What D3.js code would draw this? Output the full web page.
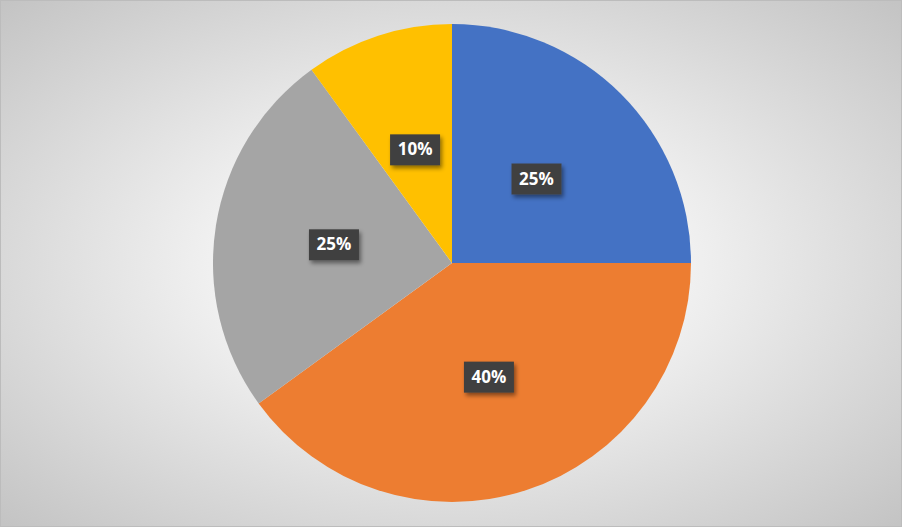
<!DOCTYPE html>
<html>
<head>
<meta charset="utf-8">
<script src="https://cdn.jsdelivr.net/npm/d3@7"></script>
<style>
  html, body { margin: 0; padding: 0; background: #fff; }
  svg { display: block; }
</style>
</head>
<body>
<svg id="chart" width="902" height="527"></svg>
<script>
// chart data
const categories = ['A', 'B', 'C', 'D'];
const values = [25, 40, 25, 10];
const colors = ['#4472C4', '#ED7D31', '#A5A5A5', '#FFC000'];

const width = 902, height = 527;
const cx = 452, cy = 263, radius = 239;

const svg = d3.select('#chart');
const defs = svg.append('defs');

// background gradient
const grad = defs.append('radialGradient')
    .attr('id', 'bg')
    .attr('cx', '50%').attr('cy', '50%').attr('r', '70%');
grad.append('stop').attr('offset', '0%').attr('stop-color', '#ffffff');
grad.append('stop').attr('offset', '30%').attr('stop-color', '#f6f6f6');
grad.append('stop').attr('offset', '100%').attr('stop-color', '#c4c4c4');

// label shadow
const filt = defs.append('filter').attr('id', 'shadow')
    .attr('x', '-30%').attr('y', '-30%').attr('width', '160%').attr('height', '180%');
filt.append('feDropShadow')
    .attr('dx', 2).attr('dy', 3).attr('stdDeviation', 2)
    .attr('flood-color', '#000').attr('flood-opacity', 0.45);

svg.append('rect')
    .attr('x', 0.5).attr('y', 0.5)
    .attr('width', width - 1).attr('height', height - 1)
    .attr('fill', 'url(#bg)')
    .attr('stroke', '#bcbcbc');

const pie = d3.pie().sort(null).value(d => d);
const arc = d3.arc().innerRadius(0).outerRadius(radius);
const labelArc = d3.arc().innerRadius(radius * 0.5).outerRadius(radius * 0.5);

const g = svg.append('g').attr('transform', `translate(${cx},${cy})`);
const slices = pie(values);

g.selectAll('path')
    .data(slices)
    .join('path')
    .attr('d', arc)
    .attr('fill', (d, i) => colors[i]);

const total = d3.sum(values);
const labels = g.selectAll('g.label')
    .data(slices)
    .join('g')
    .attr('class', 'label')
    .attr('transform', d => `translate(${labelArc.centroid(d)})`);

labels.append('rect')
    .attr('x', -25).attr('y', -15)
    .attr('width', 50).attr('height', 31)
    .attr('fill', '#404040')
    .attr('filter', 'url(#shadow)');

labels.append('text')
    .attr('text-anchor', 'middle')
    .attr('dy', '0.36em')
    .attr('fill', '#fff')
    .attr('font-family', 'Open Sans, Liberation Sans, sans-serif')
    .attr('font-weight', 'bold')
    .attr('font-size', 17)
    .text(d => Math.round(d.value / total * 100) + '%');
</script>
</body>
</html>
